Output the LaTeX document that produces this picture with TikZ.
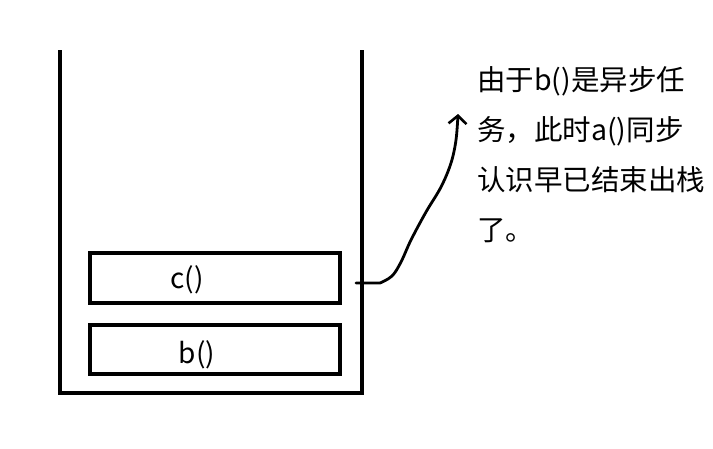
\documentclass[tikz,border=0pt]{standalone}
\usepackage{fontspec}
\newfontfamily\cjk{Noto Sans CJK SC}
\usetikzlibrary{arrows.meta}
\begin{document}
\begin{tikzpicture}[x=1pt,y=-1pt,
  wall/.style={line width=4pt},
  frame/.style={draw,line width=4pt,minimum width=250pt,minimum height=50pt,inner sep=0pt,outer sep=0pt},
  lbl/.style={font=\cjk\fontsize{28}{28}\selectfont,inner sep=0pt},
  note/.style={font=\cjk\fontsize{28.5}{28.5}\selectfont,inner sep=0pt,anchor=base west},
  conn/.style={line width=2.8pt,line cap=round,line join=round,-{Straight Barb[length=8pt,width=18pt,line width=2.6pt]}}]
\useasboundingbox (0,0) rectangle (713,448);
\draw[wall] (60,50) -- (60,393) -- (362,393) -- (362,50);
\node[frame] (cbox) at (215,278) {};
\node[frame,minimum height=49pt] (bbox) at (215,349.5) {};
\node[lbl] (ct) at (187,280) {c()};
\node[lbl] (bt) at (197,355) {b()};
\coordinate (s) at (356,283);
\draw[conn] (s) -- plot[smooth,tension=0.6] coordinates {(380,283) (392,276) (401,262) (411,240) (426,212) (441,187) (451,163) (456,140) (458,114)};
\node[note] (l1) at (477,90) {由于b()是异步任};
\node[note] (l2) at (477,140) {务，此时a()同步};
\node[note] (l3) at (477,190) {认识早已结束出栈};
\node[note] (l4) at (477,240) {了。};
\end{tikzpicture}
\end{document}
